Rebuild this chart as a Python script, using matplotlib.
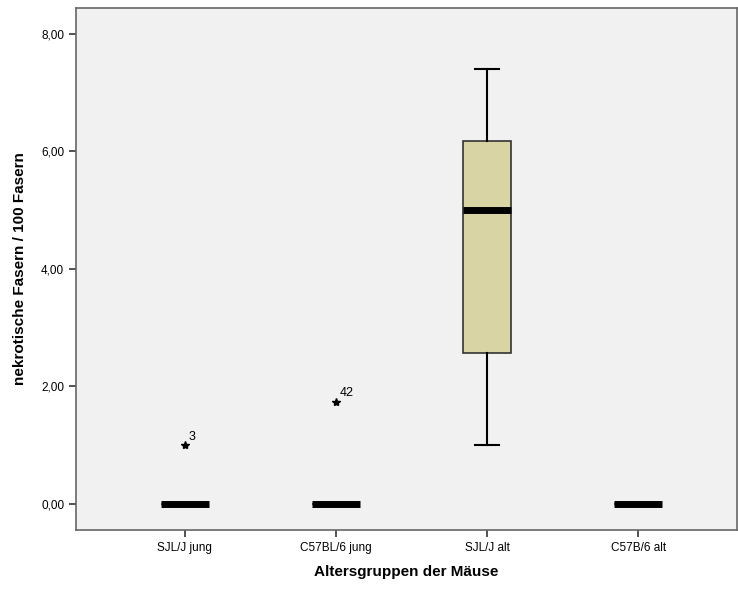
import matplotlib.pyplot as plt

plt.rcParams['font.family'] = ['Liberation Sans', 'DejaVu Sans']

# Data
groups = ['SJL/J jung', 'C57BL/6 jung', 'SJL/J alt', 'C57B/6 alt']
q1 = [0.0, 0.0, 2.57, 0.0]
med = [0.0, 0.0, 5.0, 0.0]
q3 = [0.0, 0.0, 6.17, 0.0]
whislo = [0.0, 0.0, 1.0, 0.0]
whishi = [0.0, 0.0, 7.4, 0.0]
outliers = [[1.0], [1.74], [], []]
outlier_ids = [['3'], ['42'], [], []]

stats = []
for i, g in enumerate(groups):
    stats.append({'label': g, 'q1': q1[i], 'med': med[i], 'q3': q3[i],
                  'whislo': whislo[i], 'whishi': whishi[i], 'fliers': []})

fig = plt.figure(figsize=(7.38, 5.92), dpi=100)
ax = fig.add_axes([0.103, 0.105, 0.895, 0.882])
ax.set_facecolor('#F1F1F1')

positions = [1, 2, 3, 4]
ax.bxp(stats, positions=positions, widths=0.32, patch_artist=True,
       showfliers=False, capwidths=0.16,
       boxprops=dict(facecolor='#D8D4A4', edgecolor='#333333', linewidth=1.2),
       medianprops=dict(color='black', linewidth=5, solid_capstyle='butt'),
       whiskerprops=dict(color='black', linewidth=1.5),
       capprops=dict(color='black', linewidth=1.5))

# Extreme values with case numbers
for i, vals in enumerate(outliers):
    for v, lab in zip(vals, outlier_ids[i]):
        ax.plot(positions[i], v, marker='*', color='black', markersize=6, linestyle='none')
        ax.annotate(lab, (positions[i], v), xytext=(3, 4), textcoords='offset points',
                    fontsize=9)

ax.set_xlim(0.28, 4.65)
ax.set_ylim(-0.44, 8.44)
ax.set_yticks([0, 2, 4, 6, 8])
ax.set_yticklabels(['0,00', '2,00', '4,00', '6,00', '8,00'])
ax.set_xticks(positions)
ax.set_xticklabels(groups)
ax.tick_params(axis='both', labelsize=8.5, length=5, width=1.2, color='#333333')

for s in ax.spines.values():
    s.set_color('#666666')
    s.set_linewidth(1.2)

ax.set_xlabel('Altersgruppen der Mäuse', fontsize=11, fontweight='bold', labelpad=8)
ax.set_ylabel('nekrotische Fasern / 100 Fasern', fontsize=11, fontweight='bold', labelpad=10)

fig.savefig('out.png', dpi=100)
